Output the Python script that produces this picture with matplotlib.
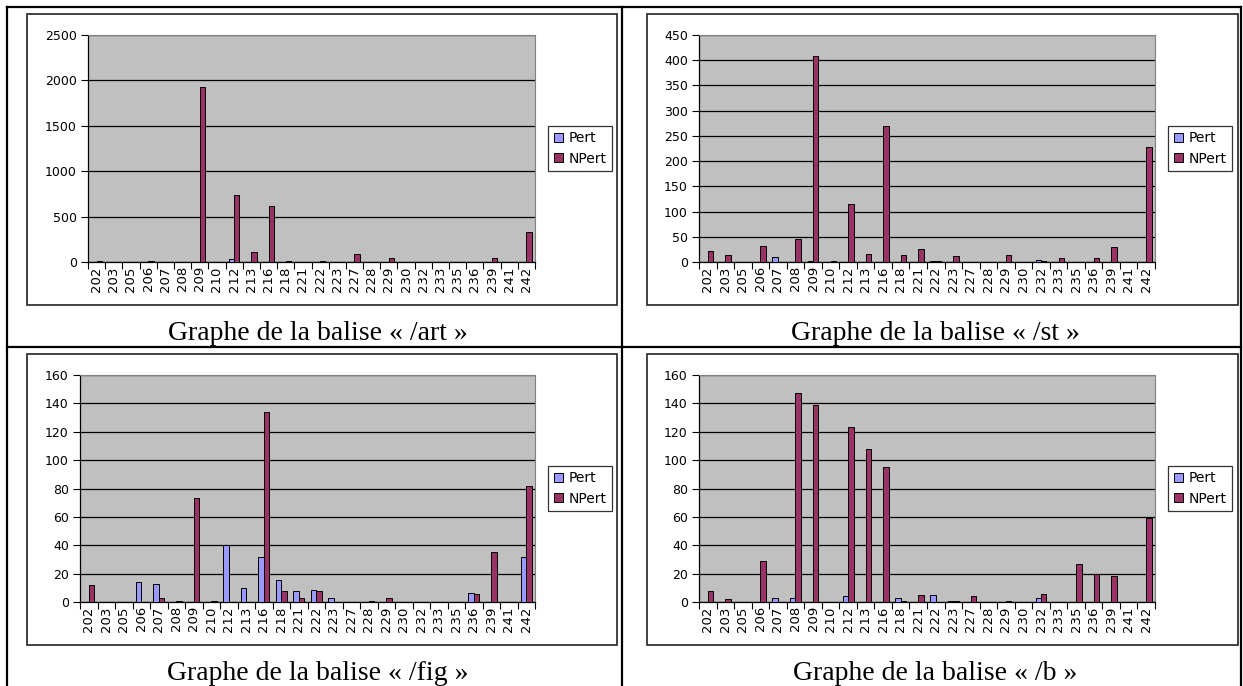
import numpy as np
import matplotlib
matplotlib.use('Agg')
import matplotlib.pyplot as plt
from matplotlib.lines import Line2D
from matplotlib.patches import Rectangle, Patch

plt.rcParams['font.family'] = ['DejaVu Sans']

W, H = 1243, 686

categories = ['202', '203', '205', '206', '207', '208', '209', '210', '212', '213',
              '216', '218', '221', '222', '223', '227', '228', '229', '230', '232',
              '233', '235', '236', '239', '241', '242']

art_pert = [0, 0, 0, 0, 0, 0, 0, 0, 35, 0, 5, 0, 0, 4, 0, 0, 0, 0, 0, 0, 0, 0, 0, 0, 0, 0]
art_npert = [8, 0, 0, 6, 0, 0, 1925, 0, 735, 110, 620, 6, 5, 6, 0, 90, 0, 45, 0, 0, 0, 0, 5, 45, 0, 330]

st_pert = [0, 0, 0, 0, 10, 0, 2, 0, 0, 0, 0, 0, 0, 2, 0, 0, 0, 0, 0, 4, 0, 0, 0, 0, 0, 0]
st_npert = [21, 13, 0, 31, 0, 45, 408, 2, 115, 15, 269, 13, 25, 2, 11, 0, 0, 13, 0, 1, 7, 0, 8, 30, 0, 227]

fig_pert = [0, 0, 0, 14, 13, 0, 0, 0, 40, 10, 31.5, 15.5, 7.5, 8.5, 3, 0, 0, 0, 0, 0, 0, 0, 6, 0, 0, 31.5]
fig_npert = [12, 0, 0, 0, 3, 1, 73, 1, 0, 0, 134, 8, 3, 7.5, 0, 0, 1, 3, 0, 0, 0, 0, 5.5, 35, 0, 82]

b_pert = [0, 0, 0, 0, 3, 2.5, 0, 0, 4, 0, 0, 2.5, 0, 5, 0.5, 0, 0, 0, 0, 3, 0, 0, 0, 0, 0, 0]
b_npert = [8, 2, 0, 29, 0, 147.5, 139, 0, 123, 107.5, 95, 1, 5, 0, 0.5, 4, 0, 0.5, 0, 5.5, 0, 26.5, 19.5, 18.5, 0, 59]

captions = ['Graphe de la balise « /art »', 'Graphe de la balise « /st »',
            'Graphe de la balise « /fig »', 'Graphe de la balise « /b »']

PERT_COLOR = '#9999FF'
NPERT_COLOR = '#993366'


def rect(x0, y0, x1, y1):
    # pixel box (top-left origin) -> figure fraction
    return [x0 / W, 1 - y1 / H, (x1 - x0) / W, (y1 - y0) / H]


def line(xs, ys, lw=1.6):
    fig.add_artist(Line2D([x / W for x in xs], [1 - y / H for y in ys],
                          transform=fig.transFigure, color='black', lw=lw))


def chart(frame, plot, legend_box, pert, npert, ymax, ystep, caption, cap_xy):
    fx0, fy0, fx1, fy1 = frame
    fig.add_artist(Rectangle((fx0 / W, 1 - fy1 / H), (fx1 - fx0) / W, (fy1 - fy0) / H,
                             transform=fig.transFigure, fill=False,
                             edgecolor='#222222', lw=1.2))
    ax = fig.add_axes(rect(*plot))
    ax.set_facecolor('#C0C0C0')
    x = np.arange(len(categories))
    w = 0.31
    ax.bar(x - w / 2, pert, w, color=PERT_COLOR, edgecolor='black', lw=0.7, zorder=3)
    ax.bar(x + w / 2, npert, w, color=NPERT_COLOR, edgecolor='black', lw=0.7, zorder=3)
    ax.set_xlim(-0.5, len(categories) - 0.5)
    ax.set_ylim(0, ymax)
    ax.set_yticks(np.arange(0, ymax + 1, ystep))
    ax.yaxis.grid(True, color='black', lw=0.9)
    ax.set_axisbelow(True)
    # category boundaries carry the tick marks, centres carry the labels
    ax.set_xticks(np.arange(-0.5, len(categories)), labels=[])
    ax.set_xticks(x, labels=categories, minor=True, rotation=90)
    ax.tick_params(axis='x', which='major', length=5, width=0.8, direction='out')
    ax.tick_params(axis='x', which='minor', length=0, labelsize=9.5, pad=3)
    ax.tick_params(axis='y', length=5, width=0.8, labelsize=9, pad=3)
    for side in ('top', 'right'):
        ax.spines[side].set_color('#808080')
        ax.spines[side].set_linewidth(0.8)
    for side in ('left', 'bottom'):
        ax.spines[side].set_color('black')
        ax.spines[side].set_linewidth(0.9)

    lx0, ly0, lx1, ly1 = legend_box
    handles = [Patch(facecolor=PERT_COLOR, edgecolor='black', lw=0.7),
               Patch(facecolor=NPERT_COLOR, edgecolor='black', lw=0.7)]
    leg = fig.legend(handles, ['Pert', 'NPert'], loc='center left',
                     bbox_to_anchor=(lx0 / W, 1 - (ly0 + ly1) / 2 / H),
                     fontsize=10, frameon=True, fancybox=False,
                     handlelength=0.65, handleheight=0.65, handletextpad=0.45,
                     borderpad=0.4, labelspacing=0.45, borderaxespad=0)
    leg.get_frame().set_edgecolor('black')
    leg.get_frame().set_linewidth(0.9)

    cx, cy = cap_xy
    fig.text(cx / W, 1 - cy / H, caption, ha='center', va='baseline',
             fontsize=20, family=['Liberation Serif', 'DejaVu Serif'])


fig = plt.figure(figsize=(W / 100, H / 100), dpi=100)

# table grid around the four charts
line([7, 1241], [7, 7])
line([7, 1241], [347, 347])
line([7, 7], [7, 686])
line([622, 622], [7, 686])
line([1241, 1241], [7, 686])

chart((27, 14, 617, 305), (88, 35, 535, 262), (548, 127, 613, 170),
      art_pert, art_npert, 2500, 500, captions[0], (318, 340))
chart((647, 14, 1238, 305), (699, 35, 1155, 262), (1168, 127, 1233, 170),
      st_pert, st_npert, 450, 50, captions[1], (935, 340))
chart((27, 354, 617, 645), (80, 375, 535, 602), (548, 467, 613, 510),
      fig_pert, fig_npert, 160, 20, captions[2], (318, 680))
chart((647, 354, 1238, 645), (699, 375, 1155, 602), (1168, 467, 1233, 510),
      b_pert, b_npert, 160, 20, captions[3], (935, 680))

fig.savefig('out.png', dpi=100)
